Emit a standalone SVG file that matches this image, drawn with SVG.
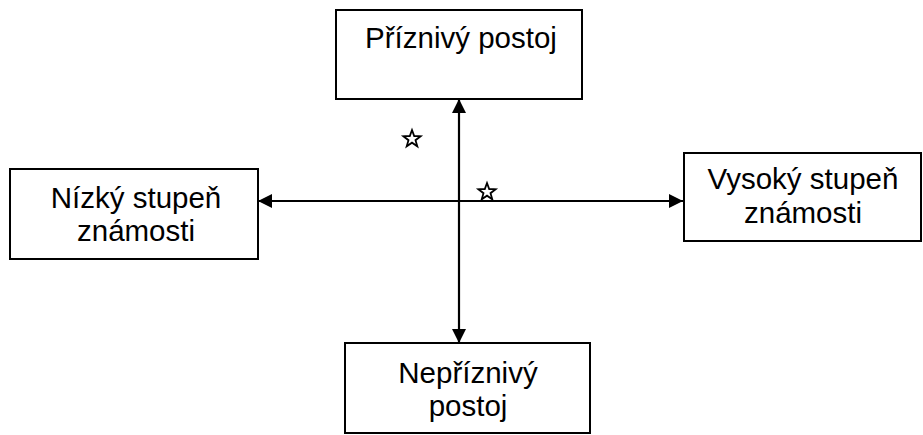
<svg xmlns="http://www.w3.org/2000/svg" width="923" height="435" viewBox="0 0 923 435">
<style>
.box{fill:#fff;stroke:#000;stroke-width:2}
.t{font-family:"Liberation Sans",Arial,sans-serif;font-size:29.5px;fill:#000;text-anchor:middle}
.ax{stroke:#000;stroke-width:2.2;fill:none;marker-end:url(#ah)}
.star{fill:#fff;stroke:#000;stroke-width:1.8;stroke-linejoin:miter}
</style>
<defs>
<marker id="ah" viewBox="0 0 14 14" refX="14" refY="7" markerWidth="14" markerHeight="14" markerUnits="userSpaceOnUse" orient="auto">
<path d="M0,0 L14,7 L0,14 Z" fill="#000"/>
</marker>
<polygon id="st" points="0,-9 2.2,-3 8.6,-2.8 3.5,1.2 5.3,7.3 0,3.7 -5.3,7.3 -3.5,1.2 -8.6,-2.8 -2.2,-3"/>
</defs>
<rect width="923" height="435" fill="#fff"/>
<g id="connectors">
<line class="ax" x1="459" y1="201" x2="459" y2="99"/>
<line class="ax" x1="459" y1="201" x2="459" y2="343"/>
<line class="ax" x1="459" y1="201" x2="258" y2="201"/>
<line class="ax" x1="459" y1="201" x2="683" y2="201"/>
</g>
<g id="top">
<rect class="box" x="336" y="10" width="246" height="89"/>
<text class="t" x="461" y="48">Příznivý postoj</text>
</g>
<g id="left">
<rect class="box" x="10" y="169" width="248" height="90"/>
<text class="t" x="136" y="208">Nízký stupeň</text>
<text class="t" x="136" y="241">známosti</text>
</g>
<g id="right">
<rect class="box" x="684" y="153" width="237" height="88"/>
<text class="t" x="803" y="189">Vysoký stupeň</text>
<text class="t" x="803" y="223">známosti</text>
</g>
<g id="bottom">
<rect class="box" x="345" y="343" width="245" height="90"/>
<text class="t" x="468" y="383">Nepříznivý</text>
<text class="t" x="468" y="416">postoj</text>
</g>
<g id="stars">
<use href="#st" class="star" x="412" y="139"/>
<use href="#st" class="star" x="487" y="192"/>
</g>
</svg>
